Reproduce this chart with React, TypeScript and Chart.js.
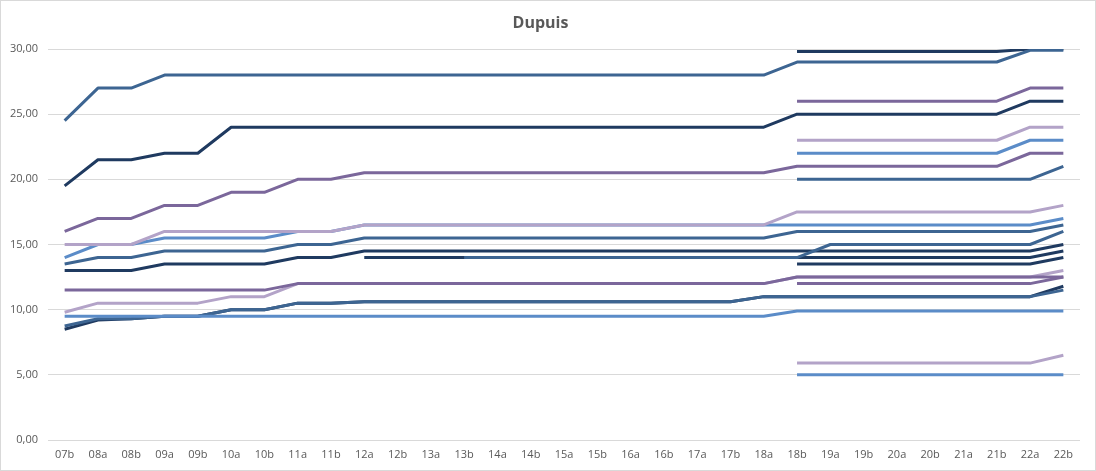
import React, { useEffect, useRef } from "react";
import { Chart, registerables } from "chart.js";

Chart.register(...registerables);

const categories = [
  "07b", "08a", "08b", "09a", "09b", "10a", "10b", "11a", "11b", "12a", "12b",
  "13a", "13b", "14a", "14b", "15a", "15b", "16a", "16b", "17a", "17b", "18a",
  "18b", "19a", "19b", "20a", "20b", "21a", "21b", "22a", "22b",
];

const yTicks = [0, 5, 10, 15, 20, 25, 30];

const _ = null;

// series (Excel order: later series drawn on top)
const sNavyTop = [_, _, _, _, _, _, _, _, _, _, _, _, _, _, _, _, _, _, _, _, _, _, 29.8, 29.8, 29.8, 29.8, 29.8, 29.8, 29.8, 30, 30];
const sSteelTop = [24.5, 27, 27, 28, 28, 28, 28, 28, 28, 28, 28, 28, 28, 28, 28, 28, 28, 28, 28, 28, 28, 28, 29, 29, 29, 29, 29, 29, 29, 29.9, 29.9];
const sNavy24 = [19.5, 21.5, 21.5, 22, 22, 24, 24, 24, 24, 24, 24, 24, 24, 24, 24, 24, 24, 24, 24, 24, 24, 24, 25, 25, 25, 25, 25, 25, 25, 26, 26];
const sPurple26 = [_, _, _, _, _, _, _, _, _, _, _, _, _, _, _, _, _, _, _, _, _, _, 26, 26, 26, 26, 26, 26, 26, 27, 27];
const sPurple20 = [16, 17, 17, 18, 18, 19, 19, 20, 20, 20.5, 20.5, 20.5, 20.5, 20.5, 20.5, 20.5, 20.5, 20.5, 20.5, 20.5, 20.5, 20.5, 21, 21, 21, 21, 21, 21, 21, 22, 22];
const sLav23 = [_, _, _, _, _, _, _, _, _, _, _, _, _, _, _, _, _, _, _, _, _, _, 23, 23, 23, 23, 23, 23, 23, 24, 24];
const sBlue22 = [_, _, _, _, _, _, _, _, _, _, _, _, _, _, _, _, _, _, _, _, _, _, 22, 22, 22, 22, 22, 22, 22, 23, 23];
const sSteel20 = [_, _, _, _, _, _, _, _, _, _, _, _, _, _, _, _, _, _, _, _, _, _, 20, 20, 20, 20, 20, 20, 20, 20, 21];
const sBlue16 = [14, 15, 15, 15.5, 15.5, 15.5, 15.5, 16, 16, 16.5, 16.5, 16.5, 16.5, 16.5, 16.5, 16.5, 16.5, 16.5, 16.5, 16.5, 16.5, 16.5, 16.5, 16.5, 16.5, 16.5, 16.5, 16.5, 16.5, 16.5, 17];
const sLav16 = [15, 15, 15, 16, 16, 16, 16, 16, 16, 16.5, 16.5, 16.5, 16.5, 16.5, 16.5, 16.5, 16.5, 16.5, 16.5, 16.5, 16.5, 16.5, 17.5, 17.5, 17.5, 17.5, 17.5, 17.5, 17.5, 17.5, 18];
const sSteel15 = [13.5, 14, 14, 14.5, 14.5, 14.5, 14.5, 15, 15, 15.5, 15.5, 15.5, 15.5, 15.5, 15.5, 15.5, 15.5, 15.5, 15.5, 15.5, 15.5, 15.5, 16, 16, 16, 16, 16, 16, 16, 16, 16.5];
const sNavy14a = [13, 13, 13, 13.5, 13.5, 13.5, 13.5, 14, 14, 14.5, 14.5, 14.5, 14.5, 14.5, 14.5, 14.5, 14.5, 14.5, 14.5, 14.5, 14.5, 14.5, 14.5, 14.5, 14.5, 14.5, 14.5, 14.5, 14.5, 14.5, 15];
const sNavy14b = [_, _, _, _, _, _, _, _, _, 14, 14, 14, 14, 14, 14, 14, 14, 14, 14, 14, 14, 14, 14, 14, 14, 14, 14, 14, 14, 14, 14.5];
const sSteel14 = [_, _, _, _, _, _, _, _, _, _, _, _, 14, 14, 14, 14, 14, 14, 14, 14, 14, 14, 14, 15, 15, 15, 15, 15, 15, 15, 16];
const sNavy13 = [_, _, _, _, _, _, _, _, _, _, _, _, _, _, _, _, _, _, _, _, _, _, 13.5, 13.5, 13.5, 13.5, 13.5, 13.5, 13.5, 13.5, 14];
const sLav12 = [9.8, 10.5, 10.5, 10.5, 10.5, 11, 11, 12, 12, 12, 12, 12, 12, 12, 12, 12, 12, 12, 12, 12, 12, 12, 12.5, 12.5, 12.5, 12.5, 12.5, 12.5, 12.5, 12.5, 13];
const sPurple12 = [11.5, 11.5, 11.5, 11.5, 11.5, 11.5, 11.5, 12, 12, 12, 12, 12, 12, 12, 12, 12, 12, 12, 12, 12, 12, 12, 12.5, 12.5, 12.5, 12.5, 12.5, 12.5, 12.5, 12.5, 12.5];
const sPurple12b = [_, _, _, _, _, _, _, _, _, _, _, _, _, _, _, _, _, _, _, _, _, _, 12, 12, 12, 12, 12, 12, 12, 12, 12.5];
const sNavy11 = [8.5, 9.2, 9.3, 9.5, 9.5, 10, 10, 10.5, 10.5, 10.6, 10.6, 10.6, 10.6, 10.6, 10.6, 10.6, 10.6, 10.6, 10.6, 10.6, 10.6, 11, 11, 11, 11, 11, 11, 11, 11, 11, 11.8];
const sSteel11 = [8.75, 9.3, 9.3, 9.5, 9.5, 10, 10, 10.5, 10.5, 10.6, 10.6, 10.6, 10.6, 10.6, 10.6, 10.6, 10.6, 10.6, 10.6, 10.6, 10.6, 11, 11, 11, 11, 11, 11, 11, 11, 11, 11.5];
const sBlue10 = [9.5, 9.5, 9.5, 9.5, 9.5, 9.5, 9.5, 9.5, 9.5, 9.5, 9.5, 9.5, 9.5, 9.5, 9.5, 9.5, 9.5, 9.5, 9.5, 9.5, 9.5, 9.5, 9.9, 9.9, 9.9, 9.9, 9.9, 9.9, 9.9, 9.9, 9.9];
const sLav6 = [_, _, _, _, _, _, _, _, _, _, _, _, _, _, _, _, _, _, _, _, _, _, 5.9, 5.9, 5.9, 5.9, 5.9, 5.9, 5.9, 5.9, 6.5];
const sBlue5 = [_, _, _, _, _, _, _, _, _, _, _, _, _, _, _, _, _, _, _, _, _, _, 5, 5, 5, 5, 5, 5, 5, 5, 5];

const NAVY = "#1f3a60";
const STEEL = "#3d6592";
const BLUE = "#5b8cc8";
const PURPLE = "#7b679b";
const LAV = "#b3a3c8";

const seriesList: [string, (number | null)[], string][] = [
  ["s1", sNavyTop, NAVY],
  ["s2", sSteelTop, STEEL],
  ["s3", sNavy24, NAVY],
  ["s4", sPurple26, PURPLE],
  ["s5", sPurple20, PURPLE],
  ["s6", sLav23, LAV],
  ["s7", sBlue22, BLUE],
  ["s8", sSteel20, STEEL],
  ["s9", sBlue16, BLUE],
  ["s10", sLav16, LAV],
  ["s11", sSteel15, STEEL],
  ["s12", sNavy14a, NAVY],
  ["s13", sNavy14b, NAVY],
  ["s14", sSteel14, STEEL],
  ["s15", sNavy13, NAVY],
  ["s16", sLav12, LAV],
  ["s17", sPurple12, PURPLE],
  ["s18", sPurple12b, PURPLE],
  ["s19", sNavy11, NAVY],
  ["s20", sSteel11, STEEL],
  ["s21", sBlue10, BLUE],
  ["s22", sLav6, LAV],
  ["s23", sBlue5, BLUE],
];

const FONT = "'Open Sans', 'Liberation Sans', sans-serif";
const TEXT = "#595959";

export default function App() {
  const ref = useRef<HTMLCanvasElement | null>(null);

  useEffect(() => {
    if (!ref.current) return;
    const n = seriesList.length;
    const chart = new Chart(ref.current, {
      type: "line",
      data: {
        labels: categories,
        datasets: seriesList.map(([label, data, color], i) => ({
          label,
          data,
          borderColor: color,
          backgroundColor: color,
          borderWidth: 3,
          pointRadius: 0,
          pointHoverRadius: 0,
          tension: 0,
          fill: false,
          spanGaps: false,
          borderJoinStyle: "round" as const,
          order: n - i,
        })),
      },
      options: {
        responsive: false,
        animation: false,
        devicePixelRatio: 1,
        layout: { padding: { left: 0, right: 15, top: 0, bottom: 0 } },
        plugins: {
          legend: { display: false },
          tooltip: { enabled: false },
          title: {
            display: true,
            text: "Dupuis",
            color: TEXT,
            font: { family: FONT, size: 16, weight: "bold", lineHeight: 1.2 },
            padding: { top: 13, bottom: 15.8 },
          },
        },
        scales: {
          x: {
            type: "category",
            offset: true,
            grid: { display: false, drawTicks: false },
            border: { display: false },
            ticks: {
              color: TEXT,
              font: { family: FONT, size: 11 },
              padding: 8,
              maxRotation: 0,
              autoSkip: false,
            },
            afterFit: (s: any) => {
              s.height = 30;
            },
          },
          y: {
            min: 0,
            max: 30,
            grid: { color: "#d9d9d9", lineWidth: 1, drawTicks: false },
            border: { display: false },
            afterBuildTicks: (s: any) => {
              s.ticks = yTicks.map((v) => ({ value: v }));
            },
            ticks: {
              color: TEXT,
              font: { family: FONT, size: 11 },
              padding: 10,
              callback: (v: any) => Number(v).toFixed(2).replace(".", ","),
            },
            afterFit: (s: any) => {
              s.width = 47;
            },
          },
        },
      },
    });
    return () => chart.destroy();
  }, []);

  return (
    <div
      style={{
        position: "fixed",
        left: 0,
        top: 0,
        width: 1096,
        height: 471,
        boxSizing: "border-box",
        border: "1px solid #d9d9d9",
        background: "#ffffff",
      }}
    >
      <canvas ref={ref} width={1094} height={469} style={{ width: 1094, height: 469, display: "block" }} />
    </div>
  );
}
